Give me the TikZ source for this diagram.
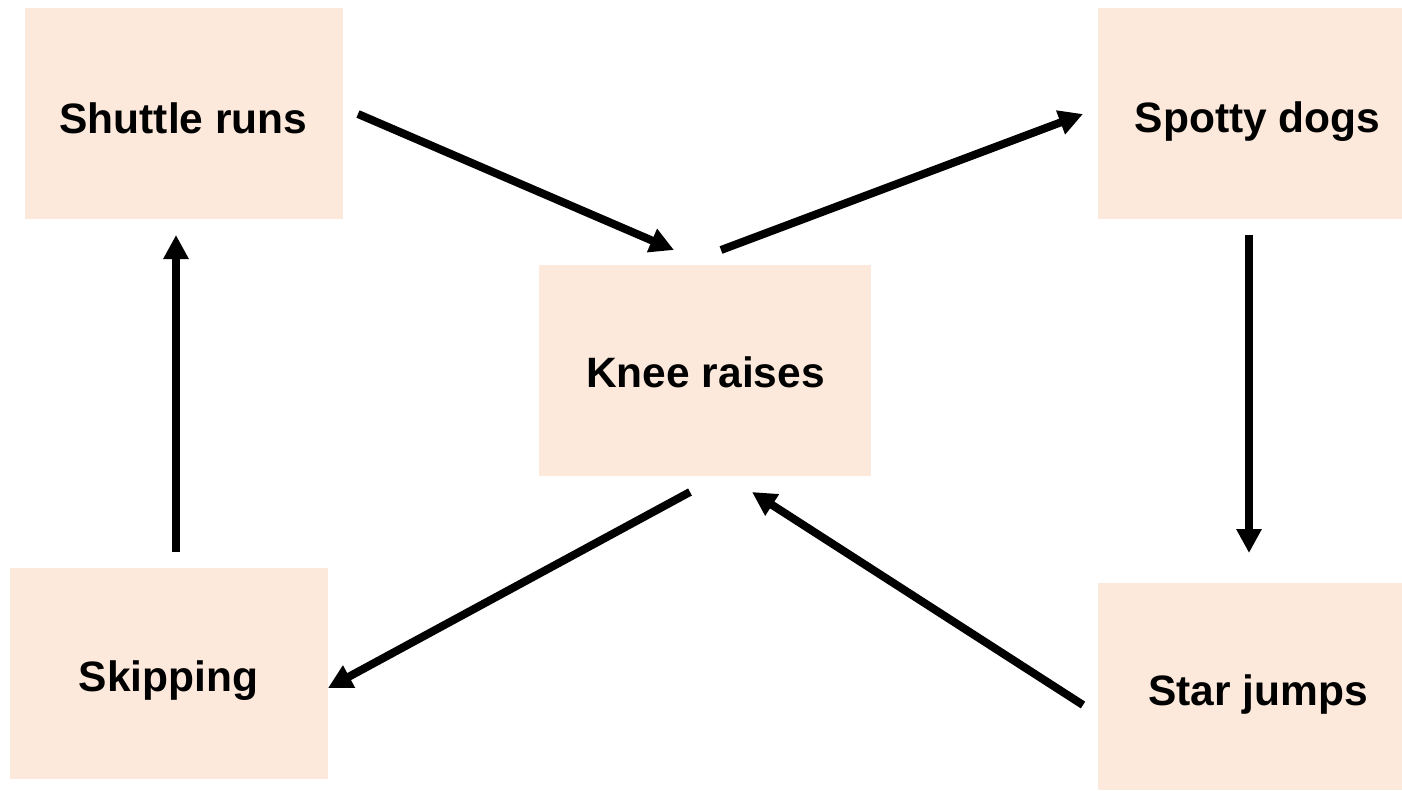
\documentclass[tikz,border=0pt]{standalone}
\usepackage{fontspec}
\setmainfont{Liberation Sans}
\usetikzlibrary{arrows.meta}
\definecolor{peach}{HTML}{FCE9DB}
\begin{document}
\begin{tikzpicture}[x=1pt,y=-1pt,
  box/.style={fill=peach,draw=none,inner sep=0pt,outer sep=0pt},
  lbl/.style={anchor=base,inner sep=0pt,font=\fontsize{42.5}{50}\selectfont\bfseries},
  arr/.style={line width=8pt,-{Triangle[length=24pt,width=24pt]}}]
\useasboundingbox (0,0) rectangle (1402,790);
% boxes
\node[box,minimum width=318pt,minimum height=211pt] (shuttle) at (184,113.5) {};
\node[box,minimum width=304pt,minimum height=211pt] (spotty) at (1250,113.5) {};
\node[box,minimum width=332pt,minimum height=211pt] (knee) at (705,370.5) {};
\node[box,minimum width=318pt,minimum height=211pt] (skip) at (169,673.5) {};
\node[box,minimum width=304pt,minimum height=207pt] (star) at (1250,686.5) {};
% labels
\node[lbl] (tshuttle) at (183.5,133) {Shuttle runs};
\node[lbl] (tspotty) at (1257.5,132) {Spotty dogs};
\node[lbl] (tknee) at (705.5,387) {Knee raises};
\node[lbl] (tskip) at (168.5,691) {Skipping};
\node[lbl] (tstar) at (1258,705) {Star jumps};
% arrow end points
\coordinate (a1s) at (358,114);
\coordinate (a1e) at (674,250);
\coordinate (a2s) at (721,250);
\coordinate (a2e) at (1083,114);
\coordinate (a3s) at (1249,235);
\coordinate (a3e) at (1249,553);
\coordinate (a4s) at (1083,705);
\coordinate (a4e) at (752,492);
\coordinate (a5s) at (690,492);
\coordinate (a5e) at (328,688);
\coordinate (a6s) at (176,552);
\coordinate (a6e) at (176,235);
\draw[arr] (a1s) -- (a1e);
\draw[arr] (a2s) -- (a2e);
\draw[arr] (a3s) -- (a3e);
\draw[arr] (a4s) -- (a4e);
\draw[arr] (a5s) -- (a5e);
\draw[arr] (a6s) -- (a6e);
\end{tikzpicture}
\end{document}
